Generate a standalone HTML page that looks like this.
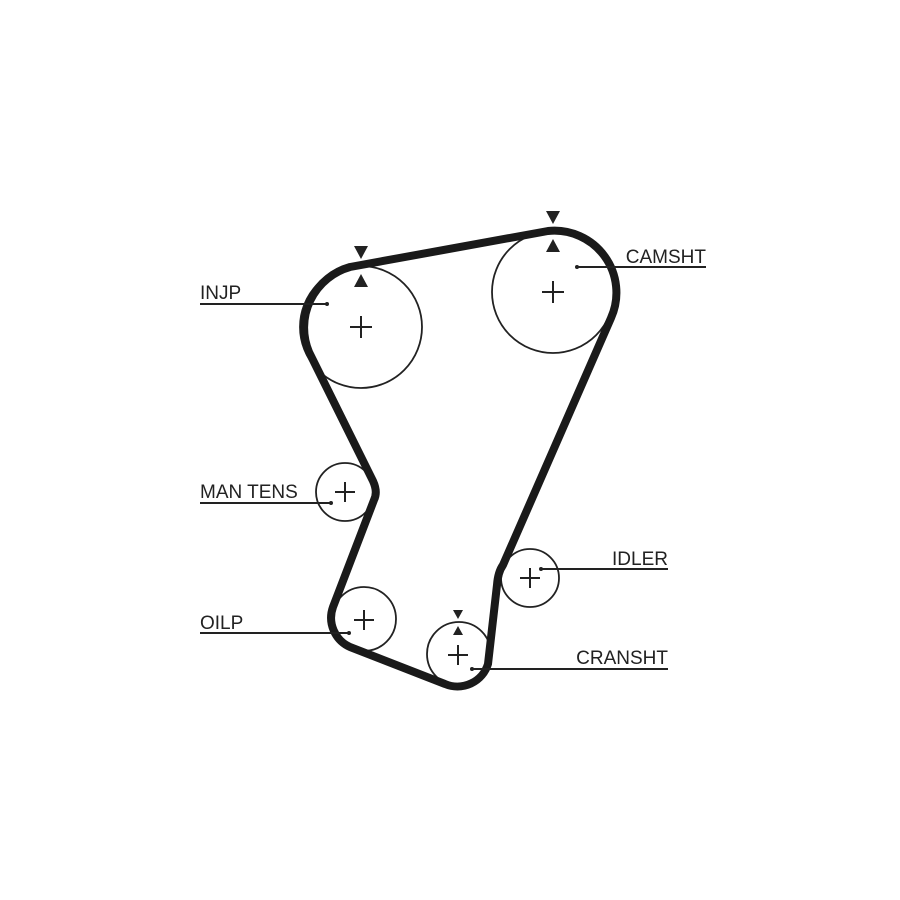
<!DOCTYPE html>
<html><head><style>body{margin:0;background:#fff}svg{display:block}</style></head><body>
<svg width="900" height="900" viewBox="0 0 900 900" xmlns="http://www.w3.org/2000/svg">
<rect width="900" height="900" fill="#fff"/>
<g fill="none" stroke="#222" stroke-width="1.8">
<circle cx="361" cy="327" r="61"/>
<circle cx="553" cy="292" r="61"/>
<circle cx="345" cy="492" r="29"/>
<circle cx="530" cy="578" r="29"/>
<circle cx="364" cy="619" r="32"/>
<circle cx="459" cy="654" r="32"/>
</g>
<path d="M350,267 L548,231 A62,62 0 0 1 611,318 L503,565 Q498,572 497,585 L488,664 A32,32 0 0 1 445,684 L350,647 A32,32 0 0 1 333,607 L374,500 Q378,492 373,481 L309,352 A63,63 0 0 1 350,267 Z" fill="none" stroke="#1a1a1a" stroke-width="8" stroke-linejoin="round"/>
<g stroke="#222" stroke-width="2">
<path d="M350,327h22M361,316v22"/>
<path d="M542,292h22M553,281v22"/>
<path d="M335,492h20M345,482v20"/>
<path d="M520,578h20M530,568v20"/>
<path d="M354,620h20M364,610v20"/>
<path d="M448,655h20M458,645v20"/>
</g>
<g stroke="#222" stroke-width="2">
<path d="M200,304H327M577,267H706M200,503H331M541,569H668M200,633H349M472,669H668"/>
</g>
<g fill="#222">
<circle cx="327" cy="304" r="2"/><circle cx="577" cy="267" r="2"/><circle cx="331" cy="503" r="2"/>
<circle cx="541" cy="569" r="2"/><circle cx="349" cy="633" r="2"/><circle cx="472" cy="669" r="2"/>
<path d="M354,246h14l-7,13z M354,287h14l-7,-13z"/>
<path d="M546,211h14l-7,13z M546,252h14l-7,-13z"/>
<path d="M453,610h10l-5,9z M453,635h10l-5,-9z"/>
</g>
<g font-family="Liberation Sans, sans-serif" font-size="19" fill="#222">
<text x="200" y="299">INJP</text>
<text x="706" y="263" text-anchor="end">CAMSHT</text>
<text x="200" y="498">MAN TENS</text>
<text x="668" y="565" text-anchor="end">IDLER</text>
<text x="200" y="629">OILP</text>
<text x="668" y="664" text-anchor="end">CRANSHT</text>
</g>
</svg>
</body></html>
